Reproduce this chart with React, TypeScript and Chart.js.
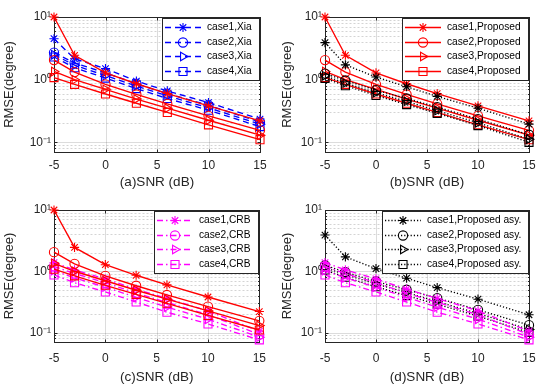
import React, { useEffect, useRef } from 'react';
import { Chart, registerables } from 'chart.js';
import { drawPoint } from 'chart.js/helpers';

Chart.register(...registerables);

const FONT = '"Liberation Sans", Arial, Helvetica, sans-serif';
Chart.defaults.font.family = FONT;

// ---------- data ----------
const snr = [-5, -3, 0, 3, 6, 10, 15];
const xTicks = [-5, 0, 5, 10, 15];
const yTicks = [
  0.07, 0.08, 0.09, 0.1, 0.2, 0.3, 0.4, 0.5, 0.6, 0.7, 0.8, 0.9,
  1, 2, 3, 4, 5, 6, 7, 8, 9, 10,
];
const caseNames = ['case1', 'case2', 'case3', 'case4'];

const xiaCase1 = [4.5, 2.15, 1.5, 0.95, 0.66, 0.43, 0.235];
const xiaCase2 = [2.7, 1.85, 1.28, 0.86, 0.6, 0.39, 0.21];
const xiaCase3 = [2.5, 1.7, 1.16, 0.79, 0.55, 0.355, 0.195];
const xiaCase4 = [2.3, 1.55, 1.06, 0.72, 0.5, 0.325, 0.178];

const propCase1 = [10, 2.45, 1.28, 0.86, 0.6, 0.38, 0.22];
const propCase2 = [2.05, 1.32, 0.84, 0.58, 0.41, 0.265, 0.155];
const propCase3 = [1.35, 1.0, 0.7, 0.49, 0.35, 0.225, 0.13];
const propCase4 = [1.08, 0.84, 0.59, 0.42, 0.3, 0.19, 0.11];

const asyCase1 = [3.9, 1.72, 1.1, 0.77, 0.54, 0.35, 0.195];
const asyCase2 = [1.25, 0.97, 0.68, 0.5, 0.365, 0.235, 0.132];
const asyCase3 = [1.15, 0.88, 0.62, 0.45, 0.32, 0.205, 0.112];
const asyCase4 = [1.05, 0.8, 0.56, 0.4, 0.29, 0.185, 0.1];

const crbCase1 = [1.38, 1.05, 0.75, 0.51, 0.36, 0.225, 0.105];
const crbCase2 = [1.2, 0.92, 0.65, 0.44, 0.31, 0.195, 0.093];
const crbCase3 = [1.03, 0.78, 0.55, 0.375, 0.26, 0.165, 0.084];
const crbCase4 = [0.87, 0.65, 0.46, 0.315, 0.215, 0.138, 0.076];

const xia = [xiaCase1, xiaCase2, xiaCase3, xiaCase4];
const proposed = [propCase1, propCase2, propCase3, propCase4];
const asy = [asyCase1, asyCase2, asyCase3, asyCase4];
const crb = [crbCase1, crbCase2, crbCase3, crbCase4];

// ---------- styles ----------
const BLUE = '#0000FF';
const RED = '#FF0000';
const BLACK = '#000000';
const MAGENTA = '#FF00FF';
const DASHED = [6, 4];
const SOLID: number[] = [];
const DOTTED = [1.2, 2];
const DASHDOT = [6, 3, 1.5, 3];
const AXIS = '#262626';

const markerStyles = ['star', 'circle', 'triangle', 'rect'];
const markerRot = [0, 0, 90, 0];
const markerRad = [4.6, 4.6, 4.9, 5.7];

const isPow10 = (v: number) => Math.abs(Math.log10(v) - Math.round(Math.log10(v))) < 1e-9;
const supMap: Record<string, string> = {
  '-': '\u207B', '0': '\u2070', '1': '\u00B9', '2': '\u00B2', '3': '\u00B3',
  '4': '\u2074', '5': '\u2075', '6': '\u2076', '7': '\u2077', '8': '\u2078', '9': '\u2079',
};
const sup = (n: number) => String(n).split('').map((c) => supMap[c] || c).join('');

function group(suffix: string, values: number[][], color: string, dash: number[], inLegend: boolean, seq: number) {
  return values.map((vals, i) => ({
    label: caseNames[i] + suffix,
    data: snr.map((x, k) => ({ x, y: vals[k] })),
    borderColor: color,
    backgroundColor: 'rgba(0,0,0,0)',
    borderWidth: 1.35,
    borderDash: dash,
    pointStyle: markerStyles[i],
    pointRotation: markerRot[i],
    pointRadius: markerRad[i],
    pointBorderWidth: 1.1,
    pointBorderColor: color,
    pointBackgroundColor: 'rgba(0,0,0,0)',
    tension: 0,
    clip: false as any,
    order: 100 - (seq * 4 + i),
    inLegend,
  }));
}

type PanelCfg = {
  left: number; top: number; width: number; height: number;
  pad: { left: number; top: number; right: number; bottom: number };
  yWidth: number; xHeight: number;
  xLabelPad: number; xTitlePad: number; yTitlePad: number;
  xTitle: string;
  datasets: any[];
};

const panels: PanelCfg[] = [
  {
    left: 0, top: 0, width: 275, height: 195,
    pad: { left: 0, top: 17, right: 15, bottom: 0 }, yWidth: 54, xHeight: 43,
    xLabelPad: 6, xTitlePad: 5, yTitlePad: 1.2, xTitle: '(a)SNR (dB)',
    datasets: [...group(',Xia', xia, BLUE, DASHED, true, 0), ...group(',Proposed', proposed, RED, SOLID, false, 1)],
  },
  {
    left: 275, top: 0, width: 275, height: 195,
    pad: { left: 0, top: 17, right: 21, bottom: 0 }, yWidth: 50, xHeight: 43,
    xLabelPad: 6, xTitlePad: 5, yTitlePad: 4.2, xTitle: '(b)SNR (dB)',
    datasets: [...group(',Proposed', proposed, RED, SOLID, true, 0), ...group(',Proposed asy.', asy, BLACK, DOTTED, false, 1)],
  },
  {
    left: 0, top: 195, width: 275, height: 194,
    pad: { left: 0, top: 15, right: 15, bottom: 0 }, yWidth: 54, xHeight: 47,
    xLabelPad: 9, xTitlePad: 4, yTitlePad: 1.2, xTitle: '(c)SNR (dB)',
    datasets: [...group(',CRB', crb, MAGENTA, DASHDOT, true, 0), ...group(',Proposed', proposed, RED, SOLID, false, 1)],
  },
  {
    left: 275, top: 195, width: 275, height: 194,
    pad: { left: 0, top: 15, right: 21, bottom: 0 }, yWidth: 50, xHeight: 47,
    xLabelPad: 9, xTitlePad: 4, yTitlePad: 4.2, xTitle: '(d)SNR (dB)',
    datasets: [...group(',Proposed asy.', asy, BLACK, DOTTED, true, 0), ...group(',CRB', crb, MAGENTA, DASHDOT, false, 1)],
  },
];

// ---------- plugins ----------
const framePlugin = {
  id: 'matlabFrame',
  beforeDatasetsDraw(chart: any) {
    const { ctx, chartArea: ca, scales } = chart;
    const L = Math.round(ca.left) + 0.5, R = Math.round(ca.right) + 0.5;
    const T = Math.round(ca.top) + 0.5, B = Math.round(ca.bottom) + 0.5;
    ctx.save();
    ctx.lineWidth = 1;
    const seg = (x1: number, y1: number, x2: number, y2: number) => {
      ctx.beginPath(); ctx.moveTo(x1, y1); ctx.lineTo(x2, y2); ctx.stroke();
    };
    for (const t of scales.y.ticks) {
      const y = Math.round(scales.y.getPixelForValue(t.value)) + 0.5;
      if (y <= T || y >= B) continue;
      const major = isPow10(t.value);
      ctx.strokeStyle = major ? 'rgba(38,38,38,0.16)' : 'rgba(38,38,38,0.2)';
      ctx.setLineDash(major ? [] : [2, 2]);
      seg(L, y, R, y);
    }
    ctx.setLineDash([]);
    ctx.strokeStyle = 'rgba(38,38,38,0.16)';
    for (const t of scales.x.ticks) {
      const x = Math.round(scales.x.getPixelForValue(t.value)) + 0.5;
      if (x <= L || x >= R) continue;
      seg(x, T, x, B);
    }
    ctx.strokeStyle = AXIS;
    for (const t of scales.x.ticks) {
      const x = Math.round(scales.x.getPixelForValue(t.value)) + 0.5;
      seg(x, B, x, B - 3);
      seg(x, T, x, T + 3);
    }
    for (const t of scales.y.ticks) {
      const y = Math.round(scales.y.getPixelForValue(t.value)) + 0.5;
      const len = isPow10(t.value) ? 3 : 1.5;
      seg(L, y, L + len, y);
      seg(R, y, R - len, y);
    }
    ctx.strokeStyle = AXIS;
    ctx.strokeRect(L, T, R - L, B - T);
    ctx.restore();
  },
};

const legendPlugin = {
  id: 'insetLegend',
  afterDraw(chart: any) {
    const items = chart.data.datasets.filter((d: any) => d.inLegend);
    const { ctx, chartArea: ca } = chart;
    ctx.save();
    ctx.font = '10.2px ' + FONT;
    const textW = Math.max(...items.map((d: any) => ctx.measureText(d.label).width));
    const padL = 3, sampleLen = 36, gap = 6, padR = 7, rowH = 14.5, padT = 2;
    const w = Math.round(padL + sampleLen + gap + textW + padR);
    const h = Math.round(padT * 2 + rowH * items.length);
    const right = Math.round(ca.right) - 1;
    const top = Math.round(ca.top) + 1;
    const left = right - w;
    ctx.fillStyle = '#FFFFFF';
    ctx.fillRect(left, top, w, h);
    ctx.strokeStyle = AXIS;
    ctx.lineWidth = 1;
    ctx.setLineDash([]);
    ctx.strokeRect(left + 0.5, top + 0.5, w, h);
    items.forEach((d: any, i: number) => {
      const y = Math.round(top + padT + rowH * (i + 0.5)) + 0.5;
      const x0 = left + padL, x1 = x0 + sampleLen;
      ctx.strokeStyle = d.borderColor;
      ctx.lineWidth = d.borderWidth;
      ctx.setLineDash(d.borderDash || []);
      ctx.beginPath(); ctx.moveTo(x0, y); ctx.lineTo(x1, y); ctx.stroke();
      ctx.setLineDash([]);
      ctx.lineWidth = 1.1;
      ctx.fillStyle = 'rgba(0,0,0,0)';
      drawPoint(ctx, { pointStyle: d.pointStyle, rotation: d.pointRotation || 0, radius: d.pointRadius, borderWidth: 1.1 } as any, (x0 + x1) / 2, y);
      ctx.fillStyle = '#000000';
      ctx.textBaseline = 'middle';
      ctx.textAlign = 'left';
      ctx.fillText(d.label, x1 + gap, y);
    });
    ctx.restore();
  },
};

function buildConfig(p: PanelCfg): any {
  return {
    type: 'line',
    data: { datasets: p.datasets },
    plugins: [framePlugin, legendPlugin],
    options: {
      animation: false,
      responsive: false,
      maintainAspectRatio: false,
      layout: { padding: p.pad },
      plugins: { legend: { display: false }, tooltip: { enabled: false }, title: { display: false } },
      scales: {
        x: {
          type: 'linear', min: -5, max: 15,
          afterBuildTicks: (s: any) => { s.ticks = xTicks.map((v) => ({ value: v })); },
          afterFit: (s: any) => { s.height = p.xHeight; },
          grid: { display: false, drawTicks: false },
          border: { display: false },
          ticks: {
            color: AXIS, font: { size: 12 }, padding: p.xLabelPad, maxRotation: 0, autoSkip: false,
            callback: (v: any) => String(v),
          },
          title: { display: true, text: p.xTitle, color: AXIS, font: { size: 13.5 }, padding: { top: 0, bottom: p.xTitlePad } },
        },
        y: {
          type: 'logarithmic', min: 0.07, max: 10,
          afterBuildTicks: (s: any) => { s.ticks = yTicks.map((v) => ({ value: v })); },
          afterFit: (s: any) => { s.width = p.yWidth; },
          grid: { display: false, drawTicks: false },
          border: { display: false },
          ticks: {
            color: AXIS, font: { size: 12 }, padding: 3, autoSkip: false,
            callback: (v: any) => (isPow10(v) ? '10' + sup(Math.round(Math.log10(v))) : ''),
          },
          title: { display: true, text: 'RMSE(degree)', color: AXIS, font: { size: 13 }, padding: { top: p.yTitlePad, bottom: 0 } },
        },
      },
    },
  };
}

function Panel({ cfg }: { cfg: PanelCfg }) {
  const ref = useRef<HTMLCanvasElement>(null);
  useEffect(() => {
    const chart = new Chart(ref.current as HTMLCanvasElement, buildConfig(cfg));
    return () => chart.destroy();
  }, [cfg]);
  return (
    <div style={{ position: 'absolute', left: cfg.left, top: cfg.top, width: cfg.width, height: cfg.height }}>
      <canvas ref={ref} width={cfg.width} height={cfg.height} style={{ width: cfg.width, height: cfg.height, display: 'block' }} />
    </div>
  );
}

export default function App() {
  return (
    <div style={{ position: 'absolute', left: 0, top: 0, width: 550, height: 389, background: '#FFFFFF', overflow: 'hidden' }}>
      {panels.map((p, i) => (
        <Panel key={i} cfg={p} />
      ))}
    </div>
  );
}
